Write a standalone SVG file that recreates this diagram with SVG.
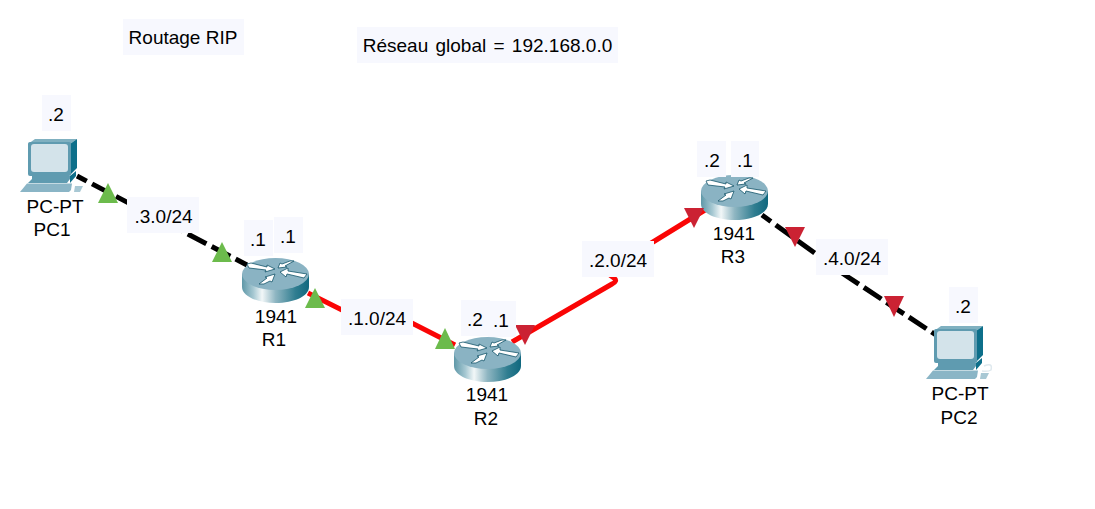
<svg xmlns="http://www.w3.org/2000/svg" width="1095" height="509" viewBox="0 0 1095 509">
<style>
text{font-family:"Liberation Sans",Arial,sans-serif;font-size:19px;fill:#000;text-anchor:middle}
.box{fill:#f7f8fe}
.b{fill:none;stroke:#000;stroke-width:5;stroke-dasharray:21 6;stroke-dashoffset:10}
.r{fill:none;stroke:#fa0505;stroke-width:5;stroke-linejoin:round}
.up{fill:#6cbb4c}
.dn{fill:#cb2233}
.ar{fill:#fff;stroke:#14566b;stroke-width:.8}
</style>
<defs>
<linearGradient id="rg" x1="0" x2="1" y1="0" y2="0">
<stop offset="0" stop-color="#5f98a8"/><stop offset=".17" stop-color="#a6c8d2"/><stop offset=".3" stop-color="#f2f7f8"/><stop offset=".5" stop-color="#8fb6c2"/><stop offset=".8" stop-color="#2f7d90"/><stop offset="1" stop-color="#10687f"/>
</linearGradient>
<g id="router">
<path d="M0 16V29C0 38 15 45 33.500 45S67 38 67 29V16Z" fill="url(#rg)"/>
<ellipse cx="33.500" cy="16" rx="33.500" ry="16" fill="#8ab3c3"/>
<path class="ar" d="M5 6L9 5L25 9L25 7L33 11L23 14L24 12L7 10Z"/>
<path class="ar" d="M36 10L38 5L40 6L48 3L52 3L43 8L45 9Z"/>
<path class="ar" d="M38 14L46 10L46 13L65 16L62 20L45 16L44 19Z"/>
<path class="ar" d="M33 16L30 24L28 23L22 26L17 26L25 20L23 19Z"/>
</g>
<g id="pc">
<path d="M8 5L15 0H57L50 5Z" fill="#7fb0c0"/>
<path d="M50 5L57 0V29L50 36Z" fill="#0d6f8a"/>
<rect x="8" y="3" width="43" height="34" rx="2" fill="#5f9bb0"/>
<rect x="11" y="5" width="37" height="28" rx="3" fill="#d3e3ea"/>
<path d="M12 37H50V40L47 44H8L12 40Z" fill="#5f9bb0"/>
<path d="M50 37L56 32V37L50 44Z" fill="#0d6f8a"/>
<path d="M7 44.500H52L51 51L49 53H0Z" fill="#8ab5c6"/>
<path d="M55 47H63L60 53H54Z" fill="#a8c8d4"/>
</g>
</defs>
<rect width="1095" height="509" fill="#fff"/>
<g id="connectors">
<path class="b" d="M77 176L186 233L247 265"/>
<path class="r" d="M308 293L348 313L400 317L455 345"/>
<path class="r" d="M512 342L612 284Q618 281 614 278L600 268L640 250L705 210"/>
<path class="b" d="M762 215L845 275L936 335"/>
</g>
<g id="PC1"><use href="#pc" x="20" y="139"/><text x="55" y="213">PC-PT</text><text x="52" y="236">PC1</text></g>
<g id="R1"><use href="#router" x="242" y="258"/><text x="276" y="323">1941</text><text x="274" y="346">R1</text></g>
<g id="R2"><use href="#router" x="454" y="337"/><text x="487" y="401">1941</text><text x="486" y="425">R2</text></g>
<g id="R3"><use href="#router" x="701" y="175"/><text x="734" y="240">1941</text><text x="733" y="263">R3</text></g>
<g id="PC2"><use href="#pc" x="926" y="326"/><path d="M984 366Q993 362 991 370Q988 372 982 371" fill="none" stroke="#dfe9ee" stroke-width="1.500"/><text x="960" y="400">PC-PT</text><text x="959" y="424">PC2</text></g>
<g id="status">
<path class="up" d="M108 183L118 203H98Z"/>
<path class="up" d="M222 242L232 262H212Z"/>
<path class="up" d="M315 288L325 308H305Z"/>
<path class="up" d="M445 328L455 349H435Z"/>
<path class="dn" d="M515 325H535L525 345Z"/>
<path class="dn" d="M684 208H704L694 228Z"/>
<path class="dn" d="M785 227H805L795 247Z"/>
<path class="dn" d="M884 296H904L894 317Z"/>
</g>
<g id="notes">
<rect class="box" x="123" y="19" width="121" height="36"/><text x="183" y="44">Routage RIP</text>
<rect class="box" x="357" y="27" width="261" height="36"/><text x="487.500" y="51.500" style="word-spacing:2px">Réseau global = 192.168.0.0</text>
<rect class="box" x="42" y="95" width="29" height="36"/><text x="56" y="121">.2</text>
<rect class="box" x="127" y="197" width="72" height="36"/><text x="163.500" y="223">.3.0/24</text>
<rect class="box" x="244" y="220" width="29" height="36"/><text x="258" y="246">.1</text>
<rect class="box" x="274" y="217" width="29" height="36"/><text x="288" y="243">.1</text>
<rect class="box" x="341" y="299" width="72" height="36"/><text x="377" y="325">.1.0/24</text>
<rect class="box" x="461" y="300" width="29" height="36"/><text x="475" y="326">.2</text>
<rect class="box" x="488" y="301" width="28" height="36"/><text x="501" y="327">.1</text>
<rect class="box" x="582" y="241" width="72" height="36"/><text x="618" y="267">.2.0/24</text>
<rect class="box" x="697" y="141" width="29" height="36"/><text x="712" y="167">.2</text>
<rect class="box" x="731" y="141" width="28" height="36"/><text x="745" y="167">.1</text>
<rect class="box" x="816" y="239" width="72" height="36"/><text x="852" y="265">.4.0/24</text>
<rect class="box" x="949" y="287" width="29" height="36"/><text x="963" y="313">.2</text>
</g>
</svg>
